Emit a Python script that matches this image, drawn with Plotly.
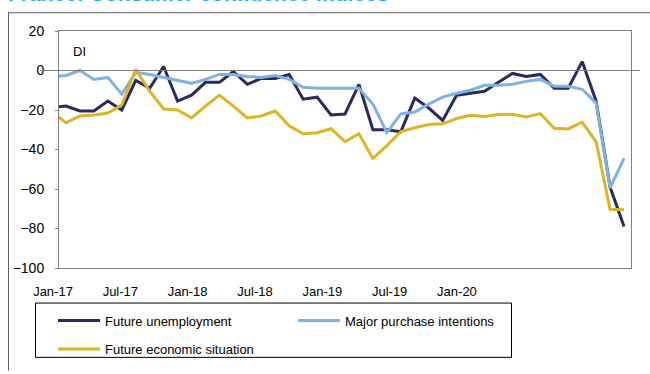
import plotly.graph_objects as go

# point index (monthly observations; first one sits just left of the axis and is clipped)
idx = list(range(-1, 41))

future_unemployment = [-18.6, -18, -20.5, -20.5, -15.5, -20, -5, -9, 2, -15.5, -12.5,
                       -6, -6, -0.5, -7, -4, -4, -2, -14.5, -13.5, -22.5, -22, -7,
                       -30, -30, -31, -14, -19, -25.3, -12.5, -11.5, -10.5, -6, -1.5,
                       -3, -2, -9, -9, 4.5, -15.5, -59, -79]
major_purchase = [-3.2, -2.5, 0, -4.5, -3.5, -12, -1, -2, -3.5, -5, -6.5,
                  -4.5, -2, -2, -3, -3.5, -2.5, -4.5, -8.5, -9, -9, -9, -9,
                  -17, -31.5, -22, -21, -17, -13.5, -11.5, -10, -7.5, -7.5, -7,
                  -5.5, -4.5, -8, -8, -9.5, -16.5, -59.5, -44.5]
future_economic = [-21, -26.5, -23, -22.5, -21.5, -17.5, 0.5, -10.5, -19.5, -20, -24,
                   -18, -12.5, -18, -24, -23, -20.5, -28, -32, -31.5, -29.5, -36, -32,
                   -44.5, -38, -31, -29, -27.3, -27, -24.3, -22.7, -23.3, -22.3, -22.2,
                   -23.5, -21.8, -29.2, -29.6, -26.2, -36, -70.3, -70.5]

tick_labels = ["Jan-17", "Jul-17", "Jan-18", "Jul-18", "Jan-19", "Jul-19", "Jan-20"]
tick_pos = list(range(len(tick_labels)))
y_ticks = [20, 0, -20, -40, -60, -80, -100]

FONT = "Arial, Liberation Sans, sans-serif"
W, H = 650, 374
ML, MR, MT, MB = 40, 10, 31, 103
PW = W - ML - MR
PH = H - MT - MB

def px(x):
    return (x - ML) / PW

def py(y):
    return (H - MB - y) / PH

fig = go.Figure()
fig.add_trace(go.Scatter(x=idx, y=future_unemployment, mode="lines", name="Future unemployment",
                         line=dict(color="#2B2A5F", width=3), legend="legend"))
fig.add_trace(go.Scatter(x=idx, y=major_purchase, mode="lines", name="Major purchase intentions",
                         line=dict(color="#7DB3E3", width=3), legend="legend"))
fig.add_trace(go.Scatter(x=idx, y=future_economic, mode="lines", name="Future economic situation",
                         line=dict(color="#DDB422", width=3), legend="legend2"))
# carrier for the label axis
fig.add_trace(go.Scatter(x=[None], y=[None], xaxis="x2", yaxis="y", showlegend=False,
                         hoverinfo="skip"))

fig.update_layout(
    width=W, height=H,
    margin=dict(l=ML, r=MR, t=MT, b=MB),
    paper_bgcolor="white", plot_bgcolor="rgba(0,0,0,0)",
    font=dict(family=FONT, size=13, color="black"),
    title=dict(text="<b>France: Consumer confidence indices</b>",
               font=dict(family=FONT, size=21, color="#1AAEE8"),
               xref="container", x=8 / W, xanchor="left",
               yref="container", y=1 - 1 / H, yanchor="bottom", pad=dict(t=0, b=0, l=0, r=0)),
    xaxis=dict(domain=[px(59), px(631)], range=[-0.5, 40.5], showline=True, mirror=True,
               linecolor="#808080", linewidth=1, showgrid=False, zeroline=False,
               showticklabels=False, ticks="", anchor="y"),
    xaxis2=dict(domain=[0, 1], anchor="y", range=[(ML - 53) / 67.33, (W - MR - 53) / 67.33],
                tickvals=tick_pos, ticktext=tick_labels, showline=False, showgrid=False,
                zeroline=False, ticks="", ticklabelstandoff=14,
                tickfont=dict(family=FONT, size=13, color="black")),
    yaxis=dict(range=[-100, 20], tickvals=y_ticks, showline=True, mirror=True,
               linecolor="#808080", linewidth=1, showgrid=False, zeroline=True,
               zerolinecolor="#808080", zerolinewidth=1, ticks="outside", ticklen=3,
               tickcolor="#808080", ticklabelstandoff=8, anchor="x",
               tickfont=dict(family=FONT, size=14, color="black")),
    legend=dict(orientation="h", x=px(53), xanchor="left", y=py(309), yanchor="top",
                bgcolor="rgba(0,0,0,0)", borderwidth=0, entrywidth=183, entrywidthmode="pixels",
                itemwidth=42, font=dict(family=FONT, size=13, color="black")),
    legend2=dict(orientation="h", x=px(53), xanchor="left", y=py(338), yanchor="top",
                 bgcolor="rgba(0,0,0,0)", borderwidth=0, itemwidth=42,
                 font=dict(family=FONT, size=13, color="black")),
    annotations=[dict(text="DI", xref="x domain", yref="y domain", x=(71 - 59) / 572,
                      y=(271 - 51.7) / 240, xanchor="left", yanchor="middle", showarrow=False,
                      font=dict(family=FONT, size=13, color="black"))],
    shapes=[
        dict(type="line", xref="paper", yref="paper", x0=px(8), x1=px(651), y0=py(12.5), y1=py(12.5),
             line=dict(color="#606060", width=1)),
        dict(type="line", xref="paper", yref="paper", x0=px(8.5), x1=px(8.5), y0=py(12), y1=py(375),
             line=dict(color="#606060", width=1)),
        dict(type="rect", xref="paper", yref="paper", x0=px(35.5), x1=px(511.5), y0=py(361.5),
             y1=py(306.5), line=dict(color="black", width=1), fillcolor="rgba(0,0,0,0)"),
    ],
    showlegend=True,
)

fig.write_html("out.html")
